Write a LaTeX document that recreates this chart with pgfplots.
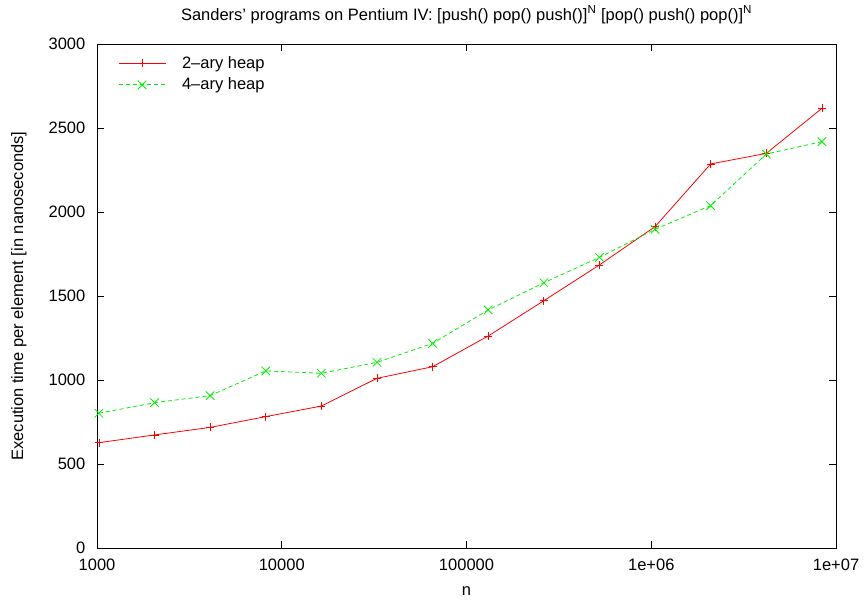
\documentclass[border=0pt]{standalone}
\usepackage{fontspec}
\setmainfont{Liberation Sans}
\usepackage{pgfplots}
\pgfplotsset{compat=1.18}
\definecolor{gpred}{RGB}{255,0,0}
\definecolor{gpgreen}{RGB}{0,240,0}
\begin{document}
\fontsize{16.5}{19}\selectfont
\begin{tikzpicture}
\path[use as bounding box] (-97pt,-55pt) rectangle (769pt,548pt);
\begin{axis}[
  at={(0,0)}, anchor=south west,
  scale only axis, width=739pt, height=504pt,
  xmode=log, log basis x=10,
  xmin=1000, xmax=10000000,
  ymin=0, ymax=3000,
  xtick={1000,10000,100000,1000000,10000000},
  xticklabels={1000,10000,100000,1e+06,1e+07},
  ytick={0,500,1000,1500,2000,2500,3000},
  yticklabels={0,500,1000,1500,2000,2500,3000},
  tick align=inside,
  major tick length=7pt, minor tick length=4pt,
  tick style={black, line width=0.8pt},
  axis line style={black, line width=0.9pt},
  /pgf/number format/assume math mode=true,
  font=\fontsize{16.5}{19}\selectfont,
  yticklabel style={xshift=-6pt},
  xticklabel style={yshift=-5pt},
  title={Sanders' programs on Pentium IV: [push() pop() push()]\textsuperscript{N} [pop() push() pop()]\textsuperscript{N}},
  title style={at={(axis description cs:0.5,1.0357)}, anchor=base},
  xlabel={n},
  xlabel style={at={(axis description cs:0.5,-0.0933)}, anchor=base},
  ylabel={Execution time per element [in nanoseconds]},
  ylabel style={at={(axis description cs:-0.1001,0.5)}, anchor=base},
  legend cell align=left,
  legend style={at={(axis description cs:0.0,1.0)}, anchor=north west, draw=none, fill=none,
    inner xsep=21pt, inner ysep=10pt, row sep=3pt, column sep=0pt,
    /tikz/every odd column/.append style={column sep=14pt},
    font=\fontsize{16.5}{19}\selectfont},
  legend image code/.code={\draw[mark repeat=2,mark phase=2] plot coordinates {(0pt,0pt) (23.5pt,0pt) (47pt,0pt)};},
]
\addplot[gpred, line width=0.8pt, mark=+, mark size=4pt, mark options={solid, line width=0.8pt}] coordinates {
(1024,627) (2048,673) (4096,718) (8192,782) (16384,845) (32768,1010) (65536,1079)
(131072,1262) (262144,1472) (524288,1685) (1048576,1913) (2097152,2286) (4194304,2349) (8388608,2617)
};
\addlegendentry{2--ary heap}
\addplot[gpgreen, line width=0.8pt, dash pattern=on 4pt off 3pt, mark=x, mark size=6pt, mark options={solid, line width=0.8pt}] coordinates {
(1024,802) (2048,865) (4096,907) (8192,1054) (16384,1040) (32768,1105) (65536,1218)
(131072,1417) (262144,1579) (524288,1730) (1048576,1897) (2097152,2038) (4194304,2345) (8388608,2419)
};
\addlegendentry{4--ary heap}
\end{axis}
\end{tikzpicture}
\end{document}
